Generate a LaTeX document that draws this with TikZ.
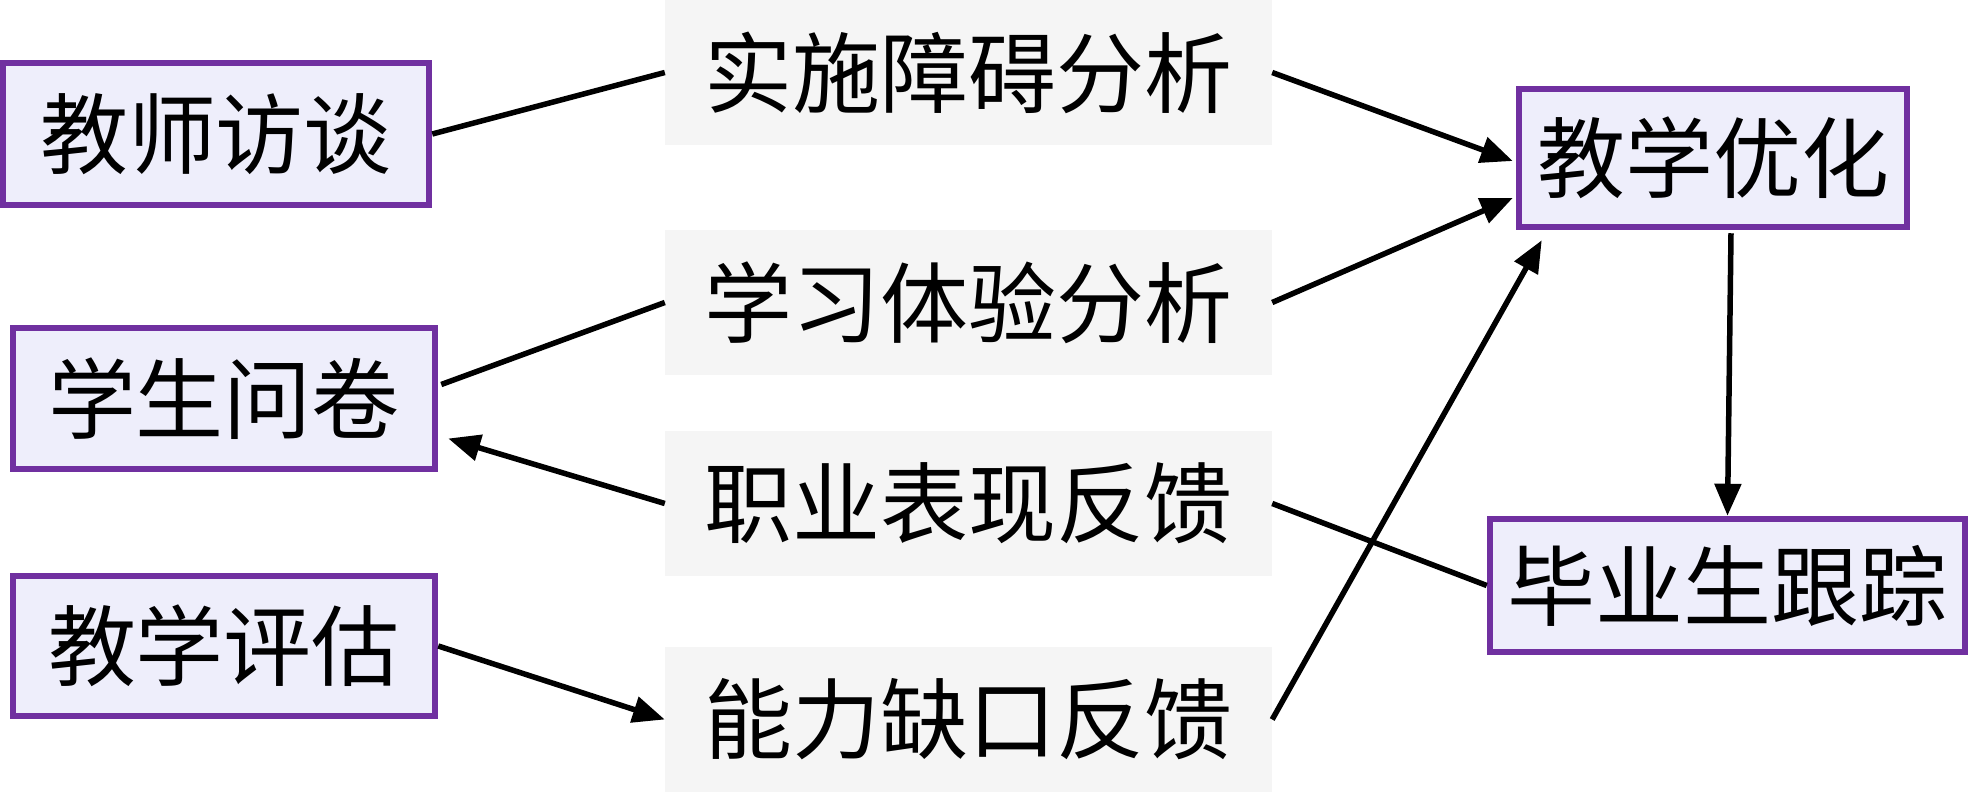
\documentclass[tikz,border=0pt]{standalone}
\usepackage{fontspec}
\newfontfamily\cjk{Noto Sans CJK SC}
\usetikzlibrary{arrows.meta,calc}
\definecolor{boxborder}{RGB}{112,48,160}
\definecolor{boxfill}{RGB}{238,238,251}
\definecolor{greyfill}{RGB}{245,245,245}
\tikzset{
  purplebox/.style={draw=boxborder, line width=6.5pt, fill=boxfill, inner sep=0pt,
     font=\cjk\fontsize{88}{100}\selectfont, align=center},
  greybox/.style={fill=greyfill, inner sep=0pt, minimum width=607pt, minimum height=145pt,
     font=\cjk\fontsize{88}{100}\selectfont, align=center},
  conn/.style={line width=5.5pt, black},
  arr/.style={conn, -{Triangle[length=32pt,width=26pt]}}
}
\begin{document}
\begin{tikzpicture}[x=1pt,y=-1pt]
\useasboundingbox (0,0) rectangle (1974,792);
% left boxes
\node[purplebox, minimum width=426pt, minimum height=142pt] (tea) at (216,134) {教师访谈};
\node[purplebox, minimum width=422pt, minimum height=141pt] (stu) at (224,398.5) {学生问卷};
\node[purplebox, minimum width=422pt, minimum height=140pt] (eva) at (224,646) {教学评估};
% middle grey boxes
\node[greybox] (g1) at (968.5,72.5) {实施障碍分析};
\node[greybox] (g2) at (968.5,302.5) {学习体验分析};
\node[greybox] (g3) at (968.5,503.5) {职业表现反馈};
\node[greybox] (g4) at (968.5,719.5) {能力缺口反馈};
% right boxes
\node[purplebox, minimum width=388pt, minimum height=138pt] (opt) at (1713,158) {教学优化};
\node[purplebox, minimum width=475pt, minimum height=133pt] (grad) at (1727.5,585.5) {毕业生跟踪};
% connectors
\draw[conn] (tea.east) -- (g1.west);
\draw[arr] (g1.east) -- ($(opt.west)+(-3,3)$);
\draw[arr] (g2.east) -- ($(opt.west)+(-3,40)$);
\draw[conn] (g2.west) -- ($(stu.east)+(3,-14)$);
\draw[arr] (g3.west) -- ($(stu.east)+(10,40)$);
\draw[conn] (g3.east) -- (grad.west);
\draw[arr] (g4.east) -- ($(opt.south west)+(26,10)$);
\draw[arr] (eva.east) -- (g4.west);
\draw[arr] ($(opt.south)+(18,3)$) -- (grad.north);
\end{tikzpicture}
\end{document}
